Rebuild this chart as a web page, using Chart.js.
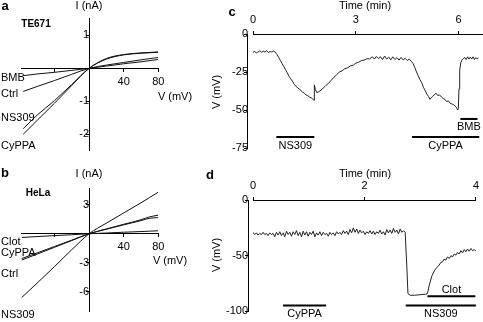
<!DOCTYPE html>
<html>
<head>
<meta charset="utf-8">
<script src="https://cdn.jsdelivr.net/npm/chart.js@4"></script>
<style>
  body { margin: 0; background: #fff; }
  #wrap { position: relative; width: 483px; height: 322px; overflow: hidden; }
  canvas { position: absolute; }
</style>
</head>
<body>
<div id="wrap">
  <canvas id="chartA" width="200" height="161" style="left:0;top:0"></canvas>
  <canvas id="chartB" width="200" height="161" style="left:0;top:161px"></canvas>
  <canvas id="chartC" width="283" height="161" style="left:200px;top:0"></canvas>
  <canvas id="chartD" width="283" height="161" style="left:200px;top:161px"></canvas>
</div>
<script>
// panel a: TE671 I-V (mV -> nA)
var aVolts = [-76, -60, -40, -20, 0, 20, 40, 60, 80]
var aBMB   = [-0.22, -0.17, -0.12, -0.06, 0, 0.07, 0.14, 0.20, 0.27]
var aCtrl  = [-0.70, -0.55, -0.37, -0.18, 0, 0.10, 0.18, 0.26, 0.33]
var aNS309 = [-1.83, -1.42, -0.98, -0.49, 0, 0.30, 0.42, 0.47, 0.50]
var aCyPPA = [-2.00, -1.58, -1.06, -0.52, 0, 0.28, 0.41, 0.46, 0.49]

// panel b: HeLa I-V
var bVolts = [-78, -60, -40, -20, 0, 20, 40, 60, 70, 80]
var bClot  = [-0.38, -0.29, -0.19, -0.10, 0, 0.08, 0.16, 0.23, 0.27, 0.31]
var bCtrl  = [-2.72, -2.10, -1.40, -0.70, 0, 0.50, 0.98, 1.45, 1.75, 1.92]
var bCyPPA = [-2.57, -1.98, -1.32, -0.66, 0, 0.47, 0.92, 1.36, 1.60, 1.67]
var bNS309 = [-6.60, -5.10, -3.40, -1.65, 0, 1.10, 2.15, 3.20, 3.75, 4.30]

// panel c: TE671 membrane potential (min -> mV)
var cTime = [0.00, 0.05, 0.10, 0.15, 0.20, 0.25, 0.30, 0.35, 0.40, 0.45, 0.50, 0.55, 0.60, 0.65,
  0.70, 0.75, 0.80, 0.85, 0.90, 0.95, 1.00, 1.05, 1.10, 1.15, 1.20, 1.25, 1.30, 1.35, 1.40, 1.45,
  1.50, 1.55, 1.60, 1.65, 1.70, 1.75, 1.78, 1.79, 1.82, 1.86, 1.92, 1.98, 2.05, 2.12, 2.20, 2.28,
  2.36, 2.44, 2.52, 2.60, 2.68, 2.76, 2.84, 2.92, 3.00, 3.08, 3.16, 3.24, 3.32, 3.40, 3.48, 3.54,
  3.60, 3.66, 3.72, 3.78, 3.84, 3.90, 3.96, 4.02, 4.08, 4.14, 4.20, 4.26, 4.32, 4.38, 4.44, 4.50,
  4.56, 4.62, 4.67, 4.72, 4.77, 4.82, 4.87, 4.92, 4.97, 5.02, 5.07, 5.12, 5.16, 5.20, 5.24, 5.29,
  5.34, 5.39, 5.44, 5.50, 5.55, 5.60, 5.65, 5.70, 5.75, 5.80, 5.85, 5.90, 5.94, 5.97, 5.99, 6.01,
  6.03, 6.06, 6.10, 6.14, 6.18, 6.22, 6.26, 6.30, 6.34, 6.38, 6.42, 6.46, 6.50, 6.54, 6.58]
var cVolt = [-12, -11.5, -12.4, -11.8, -11, -12, -11.3, -11.9, -11, -12.2, -11.5, -11.9, -11.2, -12,
  -13.5, -15.5, -17.5, -19.5, -21.5, -23.5, -25.5, -27.8, -29.5, -31, -33, -34.3, -35.5, -36.2, -37.2, -38.3,
  -39, -40.2, -40.6, -41.5, -42, -43, -43.6, -33.5, -36.5, -38.5, -38, -37, -35.5, -34, -32.5, -30.5,
  -28.5, -26.8, -25, -24.2, -22.8, -22.3, -21, -20.6, -19.2, -18.6, -17.5, -17.2, -16.3, -16.4, -15, -16.5,
  -14.8, -16.2, -15, -16.8, -14.5, -16.5, -15.2, -17, -15, -16.8, -15.5, -17.2, -15.4, -17, -16, -17.5,
  -16.5, -18, -19.5, -22, -25, -27.5, -30, -32, -35, -37, -39.5, -41, -43, -42, -41, -40,
  -39, -40.5, -40, -41.5, -42.5, -43, -44.5, -44, -45.5, -46, -46.5, -47.5, -48.5, -50, -49, -36,
  -24, -19, -17, -16, -15.5, -16.8, -15, -16.5, -15.2, -16.5, -15, -16.8, -15.5, -16.3, -15.8]
var cBarName  = ['NS309', 'CyPPA', 'BMB']
var cBarFrom  = [0.68, 4.64, 6.05]
var cBarTo    = [1.79, 6.60, 6.55]
var cBarLevel = [-67.8, -67.8, -55.9]
var cBarSide  = ['below', 'below', 'below']

// panel d: HeLa membrane potential
var dTime = [0.00, 0.03, 0.06, 0.09, 0.12, 0.15, 0.18, 0.21, 0.24, 0.27, 0.30, 0.33, 0.36, 0.39, 0.42,
  0.45, 0.48, 0.51, 0.54, 0.57, 0.60, 0.63, 0.66, 0.69, 0.72, 0.75, 0.78, 0.81, 0.84, 0.87, 0.90,
  0.93, 0.96, 0.99, 1.02, 1.05, 1.08, 1.11, 1.14, 1.17, 1.20, 1.23, 1.26, 1.29, 1.32, 1.35, 1.38,
  1.41, 1.44, 1.47, 1.50, 1.53, 1.56, 1.59, 1.62, 1.65, 1.68, 1.71, 1.74, 1.77, 1.80, 1.83, 1.86,
  1.89, 1.92, 1.95, 1.98, 2.01, 2.04, 2.07, 2.10, 2.13, 2.16, 2.19, 2.22, 2.25, 2.28, 2.31, 2.34,
  2.37, 2.40, 2.43, 2.46, 2.49, 2.52, 2.55, 2.58, 2.61, 2.64, 2.67, 2.70, 2.73, 2.76, 2.78, 2.82,
  2.90, 3.00, 3.10, 3.13, 3.16, 3.21, 3.26, 3.30, 3.34, 3.37, 3.40, 3.43, 3.46, 3.49, 3.52, 3.55,
  3.58, 3.61, 3.64, 3.67, 3.70, 3.73, 3.76, 3.79, 3.82, 3.85, 3.88, 3.91, 3.94, 3.97, 4.00]
var dVolt = [-29, -31, -29.5, -31.5, -30, -31, -29, -31, -30, -32, -29.5, -31, -30, -33, -29,
  -31.5, -28.5, -32, -29.5, -33, -28, -31, -29, -32.5, -28.5, -31, -27.5, -32, -29, -33, -28,
  -31.5, -28.5, -32.5, -29, -31, -28, -33, -29.5, -31.5, -28.5, -32, -29, -31, -30, -32.5, -29,
  -31, -29.5, -32, -28.5, -30.5, -29, -31, -27.5, -30, -28, -31, -26.5, -29.5, -25, -29, -26,
  -30, -27, -29.5, -28, -31, -28.5, -30, -27.5, -30.5, -28, -31, -28.5, -30, -27, -30.5, -28.5,
  -31.5, -26.5, -29.5, -27, -30, -25.5, -29, -27, -30.5, -26, -29, -27.5, -29, -60, -84, -85.5,
  -85.5, -85, -84.5, -84, -77, -68, -63, -60.5, -58.5, -56, -55.5, -53, -54, -51, -52.5, -50,
  -51, -48.5, -49.5, -47, -48.5, -45.5, -47.5, -44.5, -46.5, -44, -46, -43.5, -45.5, -44.5, -46]
var dBarName  = ['CyPPA', 'NS309', 'Clot']
var dBarFrom  = [0.54, 2.74, 3.13]
var dBarTo    = [1.31, 4.00, 3.99]
var dBarLevel = [-94.7, -94.7, -86.5]
var dBarSide  = ['below', 'below', 'above']

var FONT = '"Liberation Sans", Arial, Helvetica, sans-serif'
var INK = '#111'

function points(xs, ys){
  return xs.map(function(x, i){ return { x: x, y: ys[i] } })
}

function textPlugin(items){
  return {
    id: 'texts',
    afterDraw: function(chart){
      var ctx = chart.ctx
      items.forEach(function(t){
        ctx.save()
        ctx.fillStyle = '#000'
        ctx.font = (t.bold ? 'bold ' : '') + (t.size || 11) + 'px ' + FONT
        ctx.textAlign = t.align || 'center'
        ctx.textBaseline = 'middle'
        ctx.translate(t.x, t.y)
        if (t.rot) ctx.rotate(t.rot)
        ctx.fillText(t.text, 0, 0)
        ctx.restore()
      })
    }
  }
}

function barLabelPlugin(names, from, to, level, side){
  return {
    id: 'barLabels',
    afterDatasetsDraw: function(chart){
      var ctx = chart.ctx
      var xs = chart.scales.x, ys = chart.scales.y
      ctx.save()
      ctx.fillStyle = '#000'
      ctx.font = '11px ' + FONT
      ctx.textAlign = 'center'
      names.forEach(function(n, i){
        var x = xs.getPixelForValue((from[i] + to[i]) / 2)
        var y = ys.getPixelForValue(level[i])
        if (side[i] === 'above') {
          ctx.textBaseline = 'bottom'
          ctx.fillText(n, x, y - 1)
        } else {
          ctx.textBaseline = 'top'
          ctx.fillText(n, x, y + 3)
        }
      })
      ctx.restore()
    }
  }
}

function axisBase(){
  return {
    type: 'linear',
    border: { display: true, color: '#000', width: 1 },
    grid: { display: true, drawOnChartArea: false, drawTicks: true, tickLength: 3, color: '#000', lineWidth: 1 },
    ticks: { color: '#000', font: { family: FONT, size: 11 }, padding: 4, maxRotation: 0, autoSkip: false, includeBounds: false }
  }
}

function ivChart(id, volts, series, yMin, yMax, yStep, pad, texts){
  var x = axisBase()
  x.min = -78; x.max = 80
  x.position = { y: 0 }
  x.ticks.stepSize = 40
  x.ticks.callback = function(v){ return v > 0 ? v : '' }
  x.afterFit = function(s){ s.height = 0 }
  var y = axisBase()
  y.min = yMin; y.max = yMax
  y.position = { x: 0 }
  y.ticks.stepSize = yStep
  y.ticks.callback = function(v){ return v === 0 ? '' : v }
  y.afterFit = function(s){ s.width = 0 }
  return new Chart(document.getElementById(id), {
    type: 'line',
    data: {
      datasets: series.map(function(s){
        return { data: points(volts, s), borderColor: INK, borderWidth: 1, pointRadius: 0, cubicInterpolationMode: 'monotone', fill: false }
      })
    },
    options: {
      responsive: false, animation: false, devicePixelRatio: 1,
      layout: { padding: pad },
      plugins: { legend: { display: false }, tooltip: { enabled: false } },
      scales: { x: x, y: y }
    },
    plugins: [textPlugin(texts)]
  })
}

// top time axis keeps a fixed height so its labels are not clipped away
function traceChart(id, time, volt, xMax, xStep, yMin, yStep, yAxisAt, topHeight, bars, pad, texts){
  var x = axisBase()
  x.min = 0; x.max = xMax
  x.position = 'top'
  x.ticks.stepSize = xStep
  x.afterFit = function(s){ s.height = topHeight }
  var y = axisBase()
  y.min = yMin; y.max = 0
  y.position = { x: yAxisAt }
  y.ticks.stepSize = yStep
  y.afterFit = function(s){ s.width = 0 }
  var datasets = [{ data: points(time, volt), borderColor: '#222', borderWidth: 1, pointRadius: 0, tension: 0, fill: false }]
  bars.name.forEach(function(n, i){
    datasets.push({
      data: [{ x: bars.from[i], y: bars.level[i] }, { x: bars.to[i], y: bars.level[i] }],
      borderColor: '#000', borderWidth: 2, pointRadius: 0, fill: false
    })
  })
  return new Chart(document.getElementById(id), {
    type: 'line',
    data: { datasets: datasets },
    options: {
      responsive: false, animation: false, devicePixelRatio: 1,
      layout: { padding: pad },
      plugins: { legend: { display: false }, tooltip: { enabled: false } },
      scales: { x: x, y: y }
    },
    plugins: [textPlugin(texts), barLabelPlugin(bars.name, bars.from, bars.to, bars.level, bars.side)]
  })
}

ivChart('chartA', aVolts, [aBMB, aCtrl, aNS309, aCyPPA], -2.49, 1.53, 1,
  { left: 21.5, right: 41.7, top: 18, bottom: 9 },
  [
    { text: 'a', x: 5, y: 6, bold: true, size: 13 },
    { text: 'I (nA)', x: 89, y: 6 },
    { text: 'TE671', x: 36, y: 24, bold: true, size: 10 },
    { text: 'V (mV)', x: 175, y: 97 },
    { text: 'BMB', x: 1, y: 78, align: 'left' },
    { text: 'Ctrl', x: 1, y: 94, align: 'left' },
    { text: 'NS309', x: 1, y: 118, align: 'left' },
    { text: 'CyPPA', x: 1, y: 146, align: 'left' }
  ])

ivChart('chartB', bVolts, [bClot, bCtrl, bCyPPA, bNS309], -8.02, 4.73, 3,
  { left: 21.5, right: 41.7, top: 27, bottom: 1 },
  [
    { text: 'b', x: 5, y: 12, bold: true, size: 13 },
    { text: 'I (nA)', x: 89, y: 13 },
    { text: 'HeLa', x: 38, y: 32, bold: true, size: 10 },
    { text: 'V (mV)', x: 170, y: 100 },
    { text: 'Clot', x: 1, y: 81, align: 'left' },
    { text: 'CyPPA', x: 1, y: 92, align: 'left' },
    { text: 'Ctrl', x: 1, y: 113, align: 'left' },
    { text: 'NS309', x: 1, y: 154, align: 'left' }
  ])

traceChart('chartC', cTime, cVolt, 6.71, 3, -75, 25, -0.146, 34,
  { name: cBarName, from: cBarFrom, to: cBarTo, level: cBarLevel, side: cBarSide },
  { left: 53, right: 0, top: 0, bottom: 13 },
  [
    { text: 'c', x: 32, y: 12, bold: true, size: 13 },
    { text: 'Time (min)', x: 165, y: 6 },
    { text: 'V (mV)', x: 17, y: 92, rot: -Math.PI / 2 }
  ])

traceChart('chartD', dTime, dVolt, 4, 2, -100, 50, -0.088, 39,
  { name: dBarName, from: dBarFrom, to: dBarTo, level: dBarLevel, side: dBarSide },
  { left: 53, right: 3, top: 0, bottom: 9 },
  [
    { text: 'd', x: 10, y: 14, bold: true, size: 13 },
    { text: 'Time (min)', x: 165, y: 13 },
    { text: 'V (mV)', x: 17, y: 94, rot: -Math.PI / 2 }
  ])
</script>
</body>
</html>
